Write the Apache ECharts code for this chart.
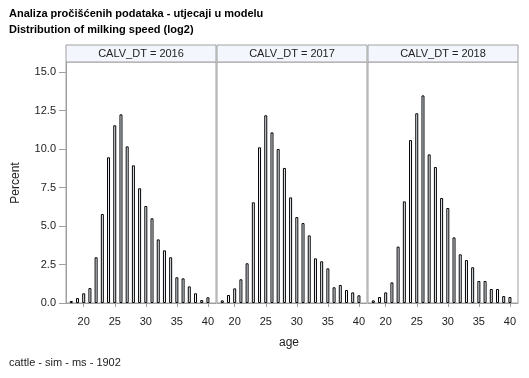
<!DOCTYPE html>
<html>
<head>
<meta charset="utf-8">
<script src="https://cdn.jsdelivr.net/npm/echarts@6/dist/echarts.min.js"></script>
<style>
html,body{margin:0;padding:0;background:#fff;}
#main{width:529px;height:378px;}
</style>
</head>
<body>
<div id="main"></div>
<script>
var titleLine1 = 'Analiza pročišćenih podataka - utjecaji u modelu';
var titleLine2 = 'Distribution of milking speed (log2)';
var footnote = 'cattle - sim - ms - 1902';
var panelLabels = ['CALV_DT = 2016', 'CALV_DT = 2017', 'CALV_DT = 2018'];
var ages = [18,19,20,21,22,23,24,25,26,27,28,29,30,31,32,33,34,35,36,37,38,39,40];
var pct2016 = [0.13,0.32,0.63,0.97,2.97,5.78,9.46,11.54,12.25,10.17,8.94,7.45,6.30,5.50,4.13,3.42,2.97,1.67,1.60,1.08,0.63,0.19,0.37];
var pct2017 = [0.17,0.52,0.95,1.54,2.58,6.54,10.11,12.19,11.08,10.00,8.77,6.86,5.58,5.19,4.39,2.90,2.71,2.25,1.02,1.17,0.84,0.69,0.50];
var pct2018 = [0.17,0.39,0.69,1.34,3.66,6.60,10.58,12.32,13.48,9.65,8.83,6.82,6.17,4.26,3.16,2.79,2.32,1.43,1.43,0.91,0.91,0.45,0.39];
var xTicks = [20,25,30,35,40];
var yTicks = [0,2.5,5,7.5,10,12.5,15];

var seriesData = [pct2016, pct2017, pct2018];
var panelLeft = [66, 217, 368];
var panelW = 150;
var plotTop = 62, plotBottom = 303;
var font = '"Liberation Sans", Arial, sans-serif';
var txt = '#222';
var gray = '#a0a0a0';

var grids = [], xAxes = [], yAxes = [], series = [], graphics = [];
for (var i = 0; i < 3; i++) {
  grids.push({left: panelLeft[i], top: plotTop, width: panelW, height: plotBottom - plotTop,
    show: true, borderColor: gray, borderWidth: 1, backgroundColor: 'transparent'});
  xAxes.push({type: 'value', gridIndex: i, min: 17.15, max: 41.3,
    axisLine: {show: true, lineStyle: {color: gray}},
    axisTick: {show: true, length: 4, customValues: xTicks, lineStyle: {color: gray}},
    axisLabel: {customValues: xTicks, color: txt, fontFamily: font, fontSize: 11, margin: 13},
    splitLine: {show: false}});
  yAxes.push({type: 'value', gridIndex: i, min: 0, max: 15.65,
    axisLine: {show: i === 0, lineStyle: {color: gray}},
    axisTick: {show: i === 0, length: 7, customValues: yTicks, lineStyle: {color: gray}},
    axisLabel: {show: i === 0, customValues: yTicks, color: txt, fontFamily: font, fontSize: 11, margin: 10,
      formatter: function (v) { return v.toFixed(1); }},
    splitLine: {show: false}});
  series.push({type: 'bar', xAxisIndex: i, yAxisIndex: i, barWidth: 3,
    itemStyle: {color: '#eef3fb', borderColor: '#000', borderWidth: 1},
    data: ages.map(function (a, k) { return [a, seriesData[i][k]]; })});
  graphics.push({type: 'rect', shape: {x: panelLeft[i], y: 45, width: panelW, height: plotTop - 45},
    style: {fill: '#f3f6fd', stroke: gray, lineWidth: 1}});
  graphics.push({type: 'text', x: panelLeft[i] + panelW / 2, y: 53.5,
    style: {text: panelLabels[i], fill: txt, font: '11px ' + font, align: 'center', verticalAlign: 'middle'}});
}
graphics.push({type: 'text', x: 9, y: 14, style: {text: titleLine1, fill: '#000', font: 'bold 11px ' + font, verticalAlign: 'middle'}});
graphics.push({type: 'text', x: 9, y: 30, style: {text: titleLine2, fill: '#000', font: 'bold 11px ' + font, verticalAlign: 'middle'}});
graphics.push({type: 'text', x: 16, y: 183, rotation: Math.PI / 2,
  style: {text: 'Percent', fill: txt, font: '12px ' + font, align: 'center', verticalAlign: 'middle'}});
graphics.push({type: 'text', x: 289, y: 343, style: {text: 'age', fill: txt, font: '12px ' + font, align: 'center', verticalAlign: 'middle'}});
graphics.push({type: 'text', x: 9, y: 363, style: {text: footnote, fill: txt, font: '11px ' + font, verticalAlign: 'middle'}});

var chart = echarts.init(document.getElementById('main'), null, {renderer: 'canvas'});
chart.setOption({
  animation: false,
  grid: grids, xAxis: xAxes, yAxis: yAxes, series: series, graphic: graphics
});
</script>
</body>
</html>
